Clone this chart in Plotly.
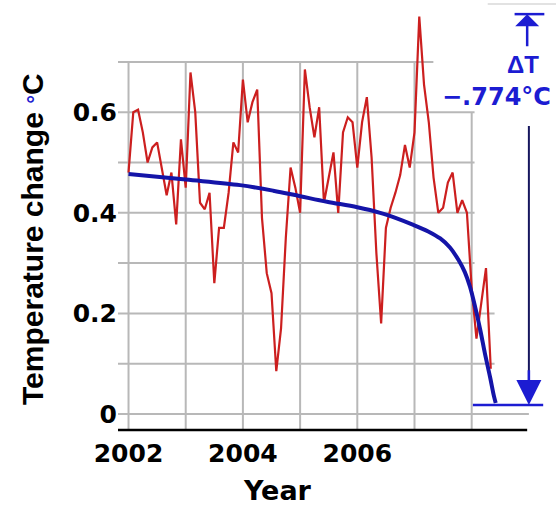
import plotly.graph_objects as go

# ---- data ----
temps = [
    0.48, 0.60, 0.605, 0.56, 0.50, 0.53, 0.54, 0.49, 0.435, 0.48, 0.377, 0.546,   # 2002
    0.45, 0.679, 0.60, 0.42, 0.407, 0.44, 0.26, 0.37, 0.37, 0.44, 0.54, 0.52,     # 2003
    0.665, 0.58, 0.62, 0.645, 0.39, 0.28, 0.24, 0.085, 0.17, 0.35, 0.49, 0.45,    # 2004
    0.40, 0.685, 0.61, 0.55, 0.61, 0.42, 0.47, 0.52, 0.40, 0.56, 0.59, 0.58,     # 2005
    0.49, 0.58, 0.63, 0.51, 0.32, 0.18, 0.37, 0.41, 0.44, 0.475, 0.535, 0.49,    # 2006
    0.56, 0.79, 0.655, 0.58, 0.47, 0.40, 0.41, 0.46, 0.48, 0.40, 0.425, 0.40,    # 2007
    0.25, 0.15, 0.22, 0.29, 0.09,                                                # 2008
]
months = [2002 + i / 12 for i in range(len(temps))]

trend_years = [2002.0, 2003.0, 2003.95, 2004.53, 2005.0, 2005.47, 2006.0, 2006.4,
               2006.69, 2006.98, 2007.24, 2007.45, 2007.62, 2007.77, 2007.88,
               2007.97, 2008.06, 2008.15, 2008.23, 2008.32, 2008.39, 2008.42]
trend_vals = [0.477, 0.466, 0.455, 0.444, 0.433, 0.422, 0.411, 0.40,
              0.389, 0.376, 0.363, 0.349, 0.331, 0.306, 0.282,
              0.253, 0.213, 0.167, 0.121, 0.074, 0.035, 0.022]

x_tickvals = [2002, 2004, 2006]
x_ticktext = ["2002", "2004", "2006"]
y_tickvals = [0, 0.2, 0.4, 0.6]
y_ticktext = ["0", "0.2", "0.4", "0.6"]
grid_years = [2002, 2003, 2004, 2005, 2006, 2007, 2008]
grid_vals = [0, 0.1, 0.2, 0.3, 0.4, 0.5, 0.6, 0.7]
delta_label = "\u2212.774\u00b0C"
delta_top = 0.795
delta_bottom = 0.018
delta_x = 2009.0

# ---- geometry ----
X0, X1 = 2001.816, 2009.474
Y0, Y1 = -0.0358, 0.8231
GRID = "#b8b8b8"
BLUE = "#1c1cd2"

fig = go.Figure()
fig.add_trace(go.Scatter(x=months, y=temps, mode="lines",
                         line=dict(color="#cc1f1f", width=2.2), hoverinfo="skip"))
fig.add_trace(go.Scatter(x=trend_years, y=trend_vals, mode="lines",
                         line=dict(color="#1414a8", width=4, shape="spline", smoothing=1.0),
                         hoverinfo="skip"))

shapes = []
# vertical grid lines
for yr in grid_years:
    top = 0.6 if yr == 2008 else 0.7
    shapes.append(dict(type="line", xref="x", yref="y", x0=yr, x1=yr, y0=Y0 + 0.004, y1=top,
                       line=dict(color=GRID, width=2), layer="below"))
# horizontal grid lines
for v in grid_vals:
    if v >= 0.65:
        xe = 2007.33
    elif v >= 0.25:
        xe = 2008.05
    elif v > 0.05:
        xe = 2008.4
    else:
        xe = 2009.0
    shapes.append(dict(type="line", xref="x", yref="y", x0=X0, x1=xe, y0=v, y1=v,
                       line=dict(color=GRID, width=2), layer="below"))
# black x axis line
shapes.append(dict(type="line", xref="x", yref="y", x0=X0, x1=2008.97, y0=-0.0318, y1=-0.0318,
                   line=dict(color="black", width=2.5)))
# delta T bars
shapes.append(dict(type="line", xref="x", yref="y", x0=2008.02, x1=2009.25,
                   y0=delta_bottom, y1=delta_bottom, line=dict(color=BLUE, width=2.5)))
shapes.append(dict(type="line", xref="x", yref="y", x0=2008.75, x1=2009.27,
                   y0=delta_top, y1=delta_top, line=dict(color=BLUE, width=2.5)))
# navy shaft of lower arrow
shapes.append(dict(type="line", xref="x", yref="y", x0=delta_x, x1=delta_x,
                   y0=0.5726, y1=0.06, line=dict(color="#16165e", width=2)))
# faint line at top right
shapes.append(dict(type="line", xref="x", yref="y", x0=2008.28, x1=X1, y0=0.815, y1=0.815,
                   line=dict(color="#d8d8d8", width=1.5)))

annotations = [
    # lower arrow head
    dict(x=delta_x, y=delta_bottom, ax=delta_x, ay=0.09, xref="x", yref="y",
         axref="x", ayref="y", text="", showarrow=True, arrowhead=2,
         arrowwidth=2.5, arrowsize=2, arrowcolor=BLUE),
    # upper arrow
    dict(x=delta_x - 0.03, y=delta_top, ax=delta_x - 0.03, ay=0.728, xref="x", yref="y",
         axref="x", ayref="y", text="", showarrow=True, arrowhead=1,
         arrowwidth=2.5, arrowsize=1.6, arrowcolor=BLUE),
    dict(x=2008.9, y=0.694, xref="x", yref="y", text="\u0394T", showarrow=False,
         font=dict(family="Liberation Sans", size=24, color=BLUE, weight="bold")),
    dict(x=2008.44, y=0.63, xref="x", yref="y", text=delta_label, showarrow=False,
         font=dict(family="DejaVu Sans", size=24, color=BLUE, weight="bold")),
    # axis titles
    dict(x=(277 - 118) / (556 - 118), y=-(490 - 432) / 432, xref="paper", yref="paper",
         text="Year", showarrow=False, xanchor="center", yanchor="middle",
         font=dict(family="DejaVu Sans", size=27, color="black", weight="bold")),
    dict(x=(33 - 118) / (556 - 118), y=(432 - 239) / 432, xref="paper", yref="paper",
         text="Temperature change <span style='color:#2020d0;font-size:22px'>\u00b0</span>C",
         textangle=-90, showarrow=False, xanchor="center", yanchor="middle",
         font=dict(family="Liberation Sans", size=30, color="black", weight="bold")),
]

tickfont = dict(family="DejaVu Sans", size=25, color="black", weight="bold")
fig.update_layout(
    width=556, height=506,
    margin=dict(l=118, r=0, t=0, b=74, pad=0),
    paper_bgcolor="white", plot_bgcolor="white",
    showlegend=False,
    shapes=shapes, annotations=annotations,
    xaxis=dict(range=[X0, X1], showgrid=False, zeroline=False, showline=False,
               tickvals=x_tickvals, ticktext=x_ticktext, tickfont=tickfont,
               ticks="", ticklabelstandoff=4),
    yaxis=dict(range=[Y0, Y1], showgrid=False, zeroline=False, showline=False,
               tickvals=y_tickvals, ticktext=y_ticktext, tickfont=tickfont,
               ticks=""),
)
fig.write_html("out.html")
